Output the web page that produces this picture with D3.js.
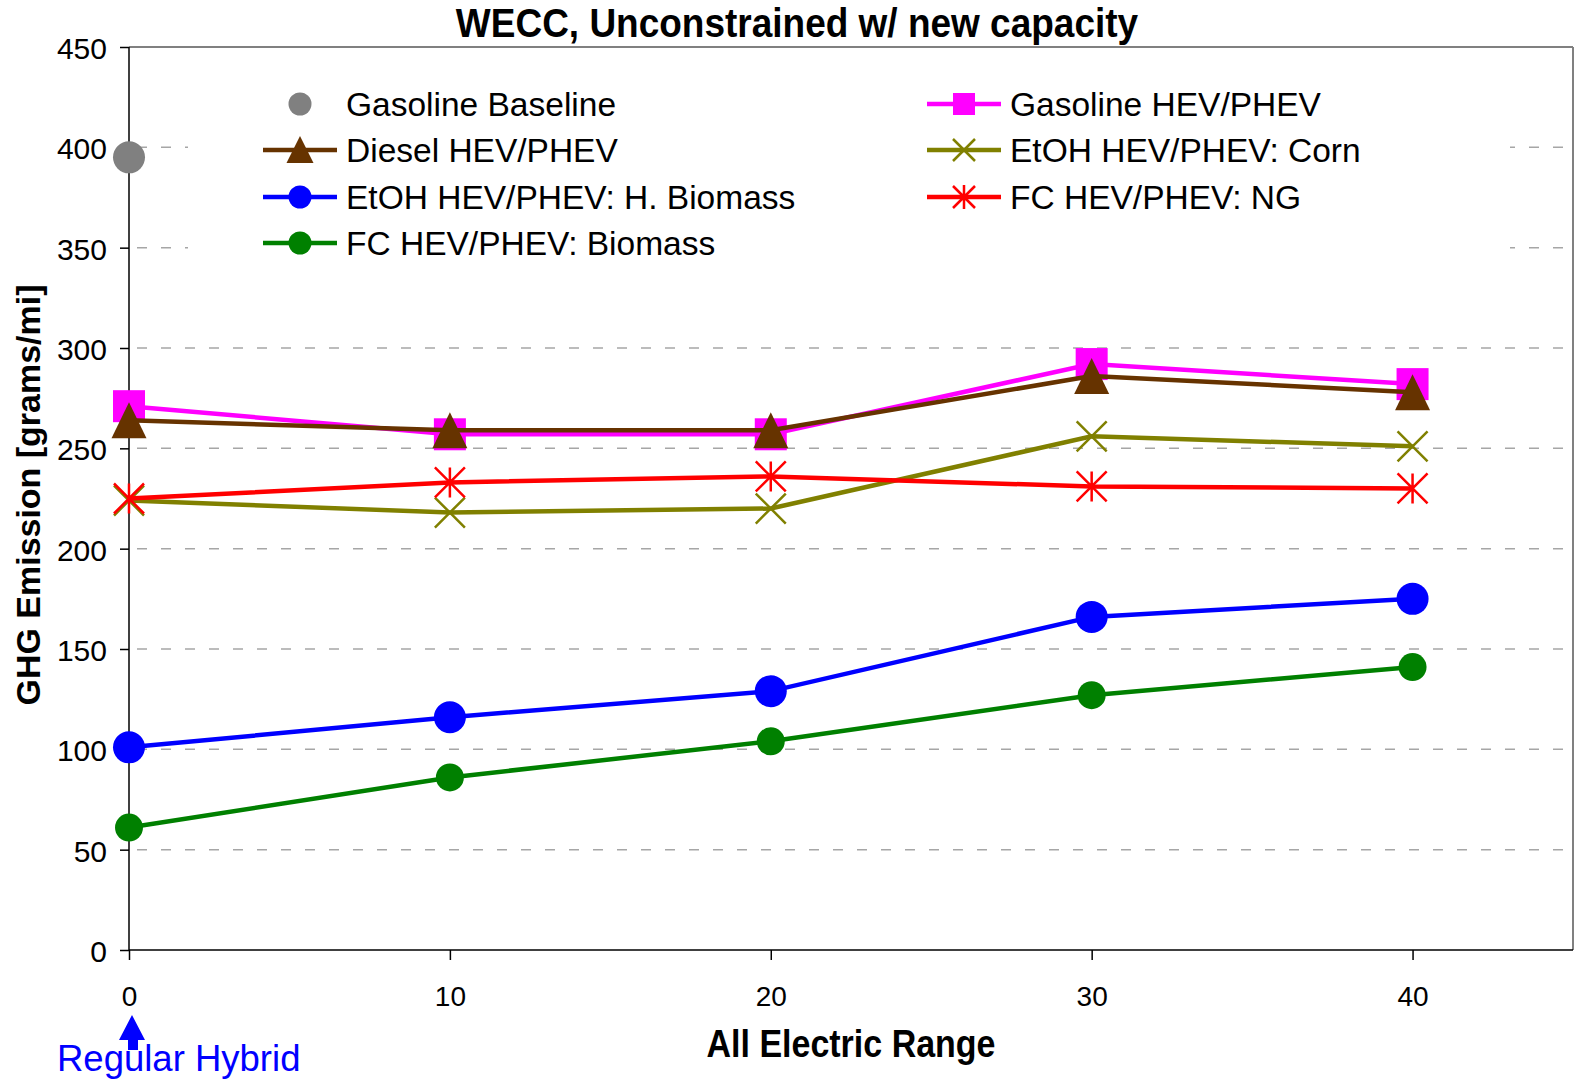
<!DOCTYPE html>
<html>
<head>
<meta charset="utf-8">
<script src="https://cdn.jsdelivr.net/npm/d3@7"></script>
<style>
  body { margin: 0; background: #fff; }
  svg { font-family: "Liberation Sans", Arial, sans-serif; }
</style>
</head>
<body>
<div id="chart"></div>
<script>
// data
const ranges = [0, 10, 20, 30, 40];
const gasolineBaseline = [395];
const gasolineHev = [271, 257, 257, 292, 282];
const dieselHev = [264, 259, 259, 286, 278];
const etohCorn = [224, 218, 220, 256, 251];
const fcNg = [225, 233, 236, 231, 230];
const etohBiomass = [101, 116, 129, 166, 175];
const fcBiomass = [61, 86, 104, 127, 141];
const xTicks = [0, 10, 20, 30, 40];
const yTicks = [0, 50, 100, 150, 200, 250, 300, 350, 400, 450];

const series = [
  { name: "Gasoline HEV/PHEV", values: gasolineHev, color: "#ff00ff", marker: "square" },
  { name: "Diesel HEV/PHEV", values: dieselHev, color: "#663300", marker: "triangle" },
  { name: "EtOH HEV/PHEV: Corn", values: etohCorn, color: "#808000", marker: "x" },
  { name: "FC HEV/PHEV: NG", values: fcNg, color: "#ff0000", marker: "star" },
  { name: "EtOH HEV/PHEV: H. Biomass", values: etohBiomass, color: "#0000ff", marker: "circle" },
  { name: "FC HEV/PHEV: Biomass", values: fcBiomass, color: "#008000", marker: "smallcircle" },
];

const W = 1580, H = 1081;
const margin = { top: 47, right: 7, bottom: 131, left: 129 };
const width = W - margin.left - margin.right;
const height = H - margin.top - margin.bottom;

const svg = d3.select("#chart").append("svg").attr("width", W).attr("height", H);
const g = svg.append("g").attr("transform", `translate(${margin.left},${margin.top})`);

const x = d3.scaleLinear().domain([0, 45]).range([0, width]);
const y = d3.scaleLinear().domain([0, 450]).range([height, 0]);

// text that is a bit taller than wide, like the source picture
function label(parent, tx, ty, txt, size, k, opts = {}) {
  const t = parent.append("text")
    .attr("transform", `translate(${tx},${ty}) ${opts.rotate ? "rotate(-90) scale(" + k + ",1)" : "scale(1," + k + ")"}`)
    .attr("font-size", size).attr("fill", opts.fill || "#000")
    .attr("text-anchor", opts.anchor || "start")
    .text(txt);
  if (opts.bold) t.attr("font-weight", "bold");
  return t;
}

// gridlines
g.append("g").selectAll("line").data(yTicks.filter(d => d > 0 && d < 450)).join("line")
  .attr("x1", 8).attr("x2", width)
  .attr("y1", d => y(d)).attr("y2", d => y(d))
  .attr("stroke", "#a6a6a6").attr("stroke-width", 1.5)
  .attr("stroke-dasharray", "10,14");

// legend background hides gridlines
g.append("rect").attr("x", 59).attr("y", 13).attr("width", 1322).attr("height", 215).attr("fill", "#fff");

// frame
g.append("line").attr("x1", 0).attr("x2", width).attr("y1", 0).attr("y2", 0).attr("stroke", "#808080").attr("stroke-width", 2);
g.append("line").attr("x1", width).attr("x2", width).attr("y1", 0).attr("y2", height).attr("stroke", "#808080").attr("stroke-width", 2);

// axes
const yAxis = g.append("g").call(d3.axisLeft(y).tickValues(yTicks).tickSize(9).tickPadding(13));
const xAxis = g.append("g").attr("transform", `translate(0,${height})`)
  .call(d3.axisBottom(x).tickValues(xTicks).tickSize(10).tickPadding(26));
[yAxis, xAxis].forEach(a => {
  a.select(".domain").attr("stroke", "#000").attr("stroke-width", 1.5);
  a.selectAll(".tick line").attr("stroke", "#000").attr("stroke-width", 1.5);
  a.selectAll("text").attr("fill", "#000").attr("font-family", "Liberation Sans, Arial, sans-serif");
});
yAxis.selectAll("text").attr("font-size", 30).attr("dy", "0.38em");
xAxis.selectAll("text").attr("font-size", 28);
yAxis.select(".domain").attr("d", `M0,0V${height}`);
xAxis.select(".domain").attr("d", `M0,0H${width}`);

function drawMarker(sel, type, color) {
  if (type === "square") {
    sel.append("rect").attr("x", -16).attr("y", -16).attr("width", 32).attr("height", 32).attr("fill", color);
  } else if (type === "triangle") {
    sel.append("path").attr("d", "M0,-18L17.5,18L-17.5,18Z").attr("fill", color);
  } else if (type === "circle" || type === "gray") {
    sel.append("circle").attr("r", 16).attr("fill", color);
  } else if (type === "smallcircle") {
    sel.append("circle").attr("r", 14).attr("fill", color);
  } else if (type === "x") {
    sel.append("path").attr("d", "M-15,-15L15,15M-15,15L15,-15").attr("stroke", color).attr("stroke-width", 2.5);
  } else if (type === "star") {
    sel.append("path").attr("d", "M-15,-15L15,15M-15,15L15,-15M0,-15L0,15").attr("stroke", color).attr("stroke-width", 2.5);
  }
}

const line = d3.line().x(d => x(d[0])).y(d => y(d[1]));

// draw lines bottom-up
const drawOrder = [5, 4, 2, 3, 0, 1];
drawOrder.forEach(i => {
  const s = series[i];
  const pts = ranges.map((r, j) => [r, s.values[j]]);
  g.append("path").datum(pts).attr("d", line)
    .attr("fill", "none").attr("stroke", s.color).attr("stroke-width", 4.5);
  g.append("g").selectAll("g").data(pts).join("g")
    .attr("transform", d => `translate(${x(d[0])},${y(d[1])})`)
    .each(function () { drawMarker(d3.select(this), s.marker, s.color); });
});

// gasoline baseline point
g.append("g").attr("transform", `translate(${x(0)},${y(gasolineBaseline[0])})`)
  .call(sel => drawMarker(sel, "gray", "#808080"));

// legend
const legendItems = [
  { name: "Gasoline Baseline", color: "#808080", marker: "gray", noLine: true, col: 0, row: 0 },
  { ...series[0], col: 1, row: 0 },
  { ...series[1], col: 0, row: 1 },
  { ...series[2], col: 1, row: 1 },
  { ...series[4], col: 0, row: 2 },
  { ...series[3], col: 1, row: 2 },
  { ...series[5], col: 0, row: 3 },
];
const colX = [300, 964];
const rowY = [104, 150, 197, 243];
const leg = svg.append("g");
legendItems.forEach(it => {
  const cx = colX[it.col], cy = rowY[it.row];
  const item = leg.append("g").attr("transform", `translate(${cx},${cy})`);
  if (!it.noLine) {
    item.append("line").attr("x1", -37).attr("x2", 37).attr("y1", 0).attr("y2", 0)
      .attr("stroke", it.color).attr("stroke-width", 4.5);
  }
  const m = item.append("g");
  if (it.marker === "gray") m.append("circle").attr("r", 11.5).attr("fill", it.color);
  else if (it.marker === "square") m.append("rect").attr("x", -11).attr("y", -11).attr("width", 22).attr("height", 22).attr("fill", it.color);
  else if (it.marker === "triangle") m.append("path").attr("d", "M0,-14L13.5,13L-13.5,13Z").attr("fill", it.color);
  else if (it.marker === "circle" || it.marker === "smallcircle") m.append("circle").attr("r", 11.5).attr("fill", it.color);
  else if (it.marker === "x") m.append("path").attr("d", "M-11,-11L11,11M-11,11L11,-11").attr("stroke", it.color).attr("stroke-width", 2.5);
  else if (it.marker === "star") m.append("path").attr("d", "M-11,-11L11,11M-11,11L11,-11M0,-12L0,12").attr("stroke", it.color).attr("stroke-width", 2.5);
  label(item, 46, 12, it.name, 33.5, 1.0);
});

// title and axis labels
label(svg, 797, 37, "WECC, Unconstrained w/ new capacity", 37, 1.1, { anchor: "middle", bold: true });
label(svg, 851, 1057, "All Electric Range", 34, 1.15, { anchor: "middle", bold: true });
label(svg, 40, 495, "GHG Emission [grams/mi]", 33, 1.03, { anchor: "middle", bold: true, rotate: true });

// regular hybrid annotation
svg.append("path").attr("d", "M132,1015L145,1040L138,1040L138,1050L128,1050L128,1040L119,1040Z").attr("fill", "#0000ff");
label(svg, 57, 1071, "Regular Hybrid", 36.5, 1.0, { fill: "#0000ff" });
</script>
</body>
</html>
